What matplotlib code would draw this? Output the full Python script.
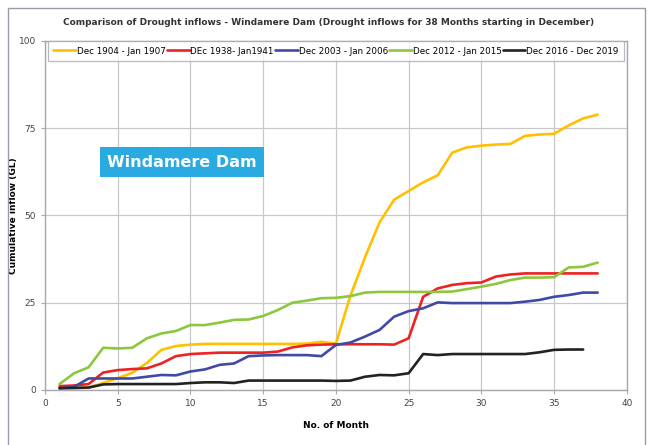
import matplotlib.pyplot as plt
from matplotlib.patches import Rectangle

# data (cumulative inflow, GL)
months = list(range(1, 39))

dec1904 = [0.5, 0.5, 0.7, 2.0, 3.4, 4.9, 7.7, 11.5, 12.6, 13.0,
           13.2, 13.2, 13.2, 13.2, 13.2, 13.2, 13.2, 13.3, 13.8, 13.3,
           27.0, 38.0, 48.0, 54.5, 57.0, 59.5, 61.5, 68.0, 69.5, 70.0,
           70.3, 70.5, 72.8, 73.2, 73.4, 75.8, 77.8, 78.9]
dec1938 = [1.1, 1.3, 1.7, 5.0, 5.7, 6.0, 6.2, 7.6, 9.7, 10.3,
           10.5, 10.7, 10.7, 10.7, 10.7, 11.0, 12.2, 12.8, 13.0, 13.1,
           13.1, 13.1, 13.1, 13.0, 14.8, 26.7, 29.1, 30.1, 30.6, 30.8,
           32.5, 33.1, 33.4, 33.4, 33.4, 33.4, 33.4, 33.4]
dec2003 = [0.5, 0.9, 3.3, 3.3, 3.3, 3.3, 3.8, 4.3, 4.2, 5.3,
           5.9, 7.2, 7.6, 9.7, 9.9, 10.0, 10.0, 10.0, 9.7, 12.9,
           13.6, 15.3, 17.2, 21.0, 22.6, 23.4, 25.1, 24.9, 24.9, 24.9,
           24.9, 24.9, 25.3, 25.8, 26.7, 27.2, 27.9, 27.9]
dec2012 = [1.7, 4.8, 6.5, 12.1, 11.9, 12.1, 14.8, 16.2, 16.9, 18.6,
           18.6, 19.3, 20.1, 20.2, 21.2, 22.9, 25.0, 25.6, 26.3, 26.4,
           26.9, 27.9, 28.1, 28.1, 28.1, 28.1, 28.1, 28.2, 28.9, 29.6,
           30.4, 31.5, 32.2, 32.2, 32.3, 35.1, 35.3, 36.5]
dec2016 = [0.5, 0.6, 0.7, 1.6, 1.7, 1.7, 1.7, 1.7, 1.7, 2.0,
           2.2, 2.2, 2.0, 2.7, 2.7, 2.7, 2.7, 2.7, 2.7, 2.6,
           2.7, 3.8, 4.3, 4.2, 4.8, 10.3, 10.0, 10.3, 10.3, 10.3,
           10.3, 10.3, 10.3, 10.8, 11.5, 11.6, 11.6]

series = [
    ("Dec 1904 - Jan 1907", dec1904, "#FFC000"),
    ("DEc 1938- Jan1941", dec1938, "#EE2222"),
    ("Dec 2003 - Jan 2006", dec2003, "#4149A6"),
    ("Dec 2012 - Jan 2015", dec2012, "#8DC63F"),
    ("Dec 2016 - Dec 2019", dec2016, "#222222"),
]

fig = plt.figure(figsize=(6.57, 4.45), dpi=100)
ax = fig.add_axes([0.0685, 0.1236, 0.8855, 0.7844])

for label, vals, col in series:
    ax.plot(months[:len(vals)], vals, color=col, lw=1.9, label=label,
            solid_joinstyle="round", solid_capstyle="round")

ax.set_xlim(0, 40)
ax.set_ylim(0, 100)
ax.set_xticks(range(0, 41, 5))
ax.set_yticks([0, 25, 50, 75, 100])
ax.grid(True, color="#C8C8CC", lw=0.9)
ax.set_axisbelow(True)
for s in ax.spines.values():
    s.set_color("#A8A8B0")
    s.set_linewidth(1.0)
ax.tick_params(labelsize=6.5, colors="#444444", length=3, color="#A8A8B0")

ax.set_xlabel("No. of Month", fontsize=6.5, fontweight="bold", labelpad=9)
ax.set_ylabel("Cumulative inflow (GL)", fontsize=6.5, fontweight="bold")
ax.yaxis.set_label_coords(-0.046, 0.5)
fig.text(0.5, 0.95, "Comparison of Drought inflows - Windamere Dam (Drought inflows for 38 Months starting in December)",
         ha="center", va="center", fontsize=6.5, fontweight="bold", color="#333333")

leg = ax.legend(loc="upper left", bbox_to_anchor=(0.005, 0.999, 0.99, 0), mode="expand",
                ncol=5, fontsize=6.3, frameon=True, fancybox=False, edgecolor="#A8A8B0",
                handlelength=2.6, handletextpad=0.1, borderaxespad=0, borderpad=0.6,
                columnspacing=0.8)
leg.get_frame().set_linewidth(0.9)

ax.text(9.4, 65.3, "Windamere Dam", ha="center", va="center", fontsize=11.5,
        fontweight="bold", color="white",
        bbox=dict(boxstyle="square,pad=0.45", fc="#29ABE2", ec="none"))

fig.patches.append(Rectangle((8 / 657, -0.05), 637 / 657, 1.05 - 8 / 445,
                             transform=fig.transFigure, fill=False,
                             ec="#9A9AA8", lw=1.0))

fig.savefig("out.png", dpi=100)
